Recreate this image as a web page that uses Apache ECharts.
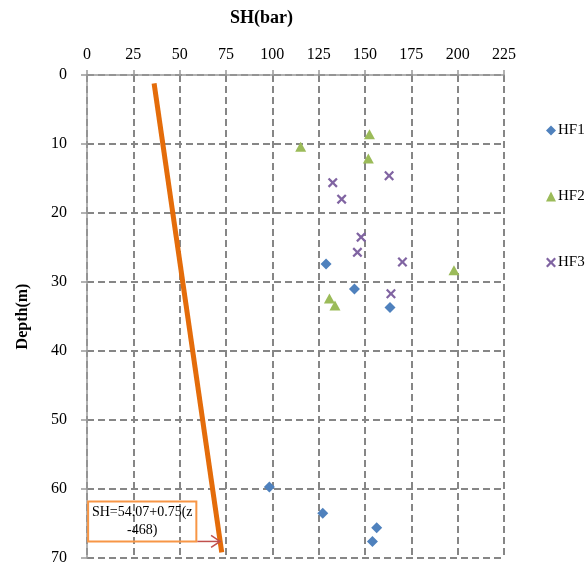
<!DOCTYPE html>
<html>
<head>
<meta charset="utf-8">
<script src="https://cdn.jsdelivr.net/npm/echarts@6/dist/echarts.min.js"></script>
<style>
  html, body { margin: 0; padding: 0; background: #fff; }
  #chart { width: 587px; height: 567px; }
</style>
</head>
<body>
<div id="chart"></div>
<script>
// valeurs : [SH (bar), profondeur (m)]
const hf1 = [[129, 27.4], [144.3, 31.0], [163.5, 33.7], [98.4, 59.7], [127.2, 63.5], [156.3, 65.6], [154, 67.6]];
const hf2 = [[115.3, 10.4], [152.4, 8.6], [151.8, 12.1], [198, 28.3], [130.8, 32.4], [133.8, 33.4]];
const hf3 = [[132.6, 15.6], [137.4, 18.0], [163, 14.6], [147.9, 23.5], [145.9, 25.7], [170.2, 27.1], [164, 31.7]];
const trend = [[36.2, 1.2], [72.7, 69.2]];
const seriesNames = ['HF1', 'HF2', 'HF3'];
const equationText = 'SH=54.07+0.75(z\n-468)';

const serif = "'Liberation Serif', 'Times New Roman', serif";
const gridColor = '#868686';
const xMark = 'path://M0,1.6L1.6,0L5,3.4L8.4,0L10,1.6L6.6,5L10,8.4L8.4,10L5,6.6L1.6,10L0,8.4L3.4,5Z';

var chart = echarts.init(document.getElementById('chart'));

const option = {
  backgroundColor: '#fff',
  animation: false,
  title: {
    text: 'SH(bar)',
    left: 225,
    top: 4,
    textStyle: { fontFamily: serif, fontSize: 18, fontWeight: 'bold', color: '#000' }
  },
  legend: {
    orient: 'vertical',
    left: 541,
    top: 118,
    itemGap: 51,
    itemWidth: 10,
    itemHeight: 10,
    data: seriesNames,
    textStyle: { fontFamily: serif, fontSize: 15, color: '#000', padding: [0, 0, 0, -3] }
  },
  grid: { left: 87, right: 83, top: 75, bottom: 9 },
  xAxis: {
    type: 'value',
    position: 'top',
    min: 0,
    max: 225,
    interval: 25,
    axisLine: { show: true, lineStyle: { color: '#999', width: 1.5 } },
    axisTick: { show: true, length: 5, lineStyle: { color: '#999', width: 1.5 } },
    axisLabel: { fontFamily: serif, fontSize: 16, color: '#000', margin: 12 },
    splitLine: { show: true, lineStyle: { color: gridColor, width: 2, type: [7, 4] } }
  },
  yAxis: {
    type: 'value',
    inverse: true,
    min: 0,
    max: 70,
    interval: 10,
    name: 'Depth(m)',
    nameLocation: 'middle',
    nameGap: 56,
    nameTextStyle: { fontFamily: serif, fontSize: 16, fontWeight: 'bold', color: '#000' },
    axisLine: { show: true, lineStyle: { color: '#999', width: 1.5 } },
    axisTick: { show: true, length: 6, lineStyle: { color: '#999', width: 1.5 } },
    axisLabel: { fontFamily: serif, fontSize: 16, color: '#000', margin: 20 },
    splitLine: { show: true, lineStyle: { color: gridColor, width: 2, type: [7, 4] } }
  },
  series: [
    {
      name: 'HF1', type: 'scatter', data: hf1,
      symbol: 'diamond', symbolSize: [11, 11],
      itemStyle: { color: '#4F81BD', opacity: 1 }, z: 5
    },
    {
      name: 'HF2', type: 'scatter', data: hf2,
      symbol: 'triangle', symbolSize: [11, 10],
      itemStyle: { color: '#9BBB59', opacity: 1 }, z: 5
    },
    {
      name: 'HF3', type: 'scatter', data: hf3,
      symbol: xMark, symbolSize: [10, 10],
      itemStyle: { color: '#8064A2', opacity: 1 }, z: 5
    },
    {
      name: 'trend', type: 'line', data: trend,
      symbol: 'none', silent: true,
      lineStyle: { color: '#E46C0A', width: 5 }, z: 4
    }
  ]
};

option && chart.setOption(option);

// encadré de l'équation + flèche, placé en coordonnées de données
const p0 = chart.convertToPixel({ gridIndex: 0 }, [0.6, 61.8]);
const p1 = chart.convertToPixel({ gridIndex: 0 }, [59, 67.6]);
const tip = chart.convertToPixel({ gridIndex: 0 }, [71.8, 67.6]);

chart.setOption({
  graphic: [
    {
      type: 'rect',
      shape: { x: p0[0], y: p0[1], width: p1[0] - p0[0], height: p1[1] - p0[1] },
      style: { fill: 'none', stroke: '#F79646', lineWidth: 2 },
      z: 10
    },
    {
      type: 'text',
      x: (p0[0] + p1[0]) / 2,
      y: (p0[1] + p1[1]) / 2,
      style: {
        text: equationText,
        font: '14px ' + serif,
        fill: '#000',
        align: 'center',
        verticalAlign: 'middle',
        lineHeight: 18
      },
      z: 11
    },
    {
      type: 'line',
      shape: { x1: p1[0] + 1, y1: p1[1], x2: tip[0], y2: tip[1] },
      style: { stroke: '#C0504D', lineWidth: 1.5 },
      z: 10
    },
    {
      type: 'polyline',
      shape: { points: [[tip[0] - 9, tip[1] - 6], [tip[0], tip[1]], [tip[0] - 9, tip[1] + 6]] },
      style: { stroke: '#C0504D', lineWidth: 1.5, fill: 'none' },
      z: 10
    }
  ]
});
</script>
</body>
</html>
